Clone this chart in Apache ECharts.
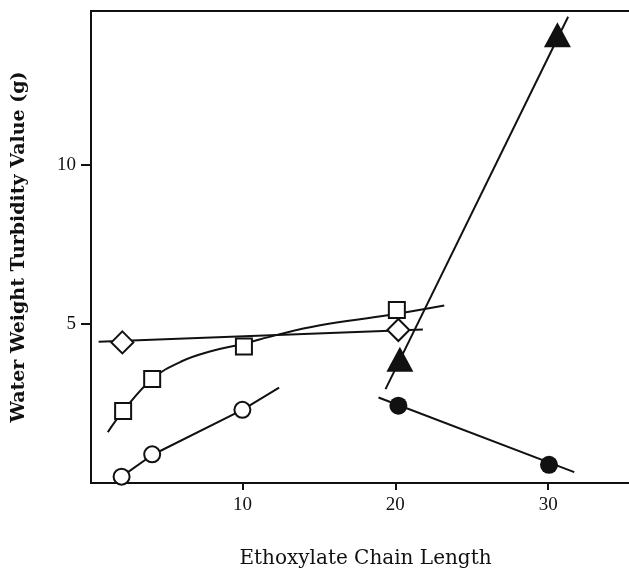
<!DOCTYPE html>
<html>
<head>
<meta charset="utf-8">
<script src="https://cdn.jsdelivr.net/npm/echarts@6/dist/echarts.min.js"></script>
<style>
html,body{margin:0;padding:0;background:#fff;}
#chart{width:629px;height:569px;}
</style>
</head>
<body>
<div id="chart"></div>
<script>
// ---- data ----
const xTicks = [10, 20, 30];
const yTicks = [5, 10];

// open circles
const circleX = [2.1, 4.1, 10.0];
const circleY = [0.2, 0.9, 2.3];
const circleFitX = [2.1, 4.1, 10.0, 12.4];
const circleFitY = [0.2, 0.88, 2.3, 3.0];

// open squares
const squareX = [2.2, 4.1, 10.1, 20.1];
const squareY = [2.26, 3.27, 4.29, 5.44];
const squareFitX = [1.2, 2.2, 4.1, 6.0, 8.0, 10.1, 12.2, 15.0, 19.6, 23.2];
const squareFitY = [1.6, 2.26, 3.27, 3.82, 4.15, 4.38, 4.65, 4.95, 5.28, 5.58];

// open diamonds
const diamondX = [2.15, 20.2];
const diamondY = [4.42, 4.81];
const diamondFitX = [0.6, 21.8];
const diamondFitY = [4.44, 4.83];

// filled triangles
const triangleX = [20.3, 30.6];
const triangleY = [3.89, 14.09];
const triangleFitX = [19.36, 31.3];
const triangleFitY = [2.95, 14.66];

// filled circles
const dotX = [20.2, 30.05];
const dotY = [2.43, 0.57];
const dotFitX = [18.9, 31.7];
const dotFitY = [2.69, 0.34];

const xName = 'Ethoxylate Chain Length';
const yName = 'Water Weight Turbidity Value (g)';

// ---- build ----
const zip = (xs, ys) => xs.map((x, i) => [x, ys[i]]);
const INK = '#111';

function fitLine(xs, ys, smooth) {
  return {
    type: 'line', data: zip(xs, ys), showSymbol: false, smooth: smooth || false,
    lineStyle: { color: INK, width: 2 }, z: 2, silent: true
  };
}
function marks(xs, ys, symbol, size, filled) {
  return {
    type: 'scatter', data: zip(xs, ys), symbol: symbol, symbolSize: size,
    itemStyle: { color: filled ? INK : '#fff', borderColor: INK, borderWidth: filled ? 0 : 2, opacity: 1 },
    z: 3, silent: true
  };
}

const chart = echarts.init(document.getElementById('chart'), null, { renderer: 'canvas' });
chart.setOption({
  animation: false,
  backgroundColor: '#fff',
  grid: {
    left: 91, right: -11, top: 11, bottom: 86,
    outerBoundsMode: 'none', containLabel: false,
    show: true, borderColor: INK, borderWidth: 2, backgroundColor: '#fff'
  },
  xAxis: {
    type: 'value', min: 0.1, max: 36,
    name: xName, nameLocation: 'middle', nameGap: 66,
    nameTextStyle: { fontFamily: 'DejaVu Serif', fontSize: 20, color: INK },
    axisLine: { show: true, lineStyle: { color: INK, width: 2 } },
    axisTick: { show: true, customValues: xTicks, length: 7, inside: false, lineStyle: { color: INK, width: 2 } },
    axisLabel: { customValues: xTicks, margin: 13, fontFamily: 'Liberation Serif', fontSize: 19, color: INK },
    splitLine: { show: false }
  },
  yAxis: {
    type: 'value', min: 0, max: 14.84,
    name: yName, nameLocation: 'middle', nameGap: 62, nameRotate: 90,
    nameTextStyle: { fontFamily: 'DejaVu Serif', fontWeight: 'bold', fontSize: 19, color: INK },
    axisLine: { show: true, lineStyle: { color: INK, width: 2 } },
    axisTick: { show: true, customValues: yTicks, length: 10, inside: false, lineStyle: { color: INK, width: 2 } },
    axisLabel: { customValues: yTicks, margin: 15, fontFamily: 'Liberation Serif', fontSize: 19, color: INK },
    splitLine: { show: false }
  },
  series: [
    fitLine(circleFitX, circleFitY),
    fitLine(squareFitX, squareFitY, 0.4),
    fitLine(diamondFitX, diamondFitY),
    fitLine(triangleFitX, triangleFitY),
    fitLine(dotFitX, dotFitY),
    marks(circleX, circleY, 'circle', 16, false),
    marks(squareX, squareY, 'rect', 16, false),
    marks(diamondX, diamondY, 'diamond', 22, false),
    marks(triangleX, triangleY, 'triangle', [27, 25], true),
    marks(dotX, dotY, 'circle', 18, true)
  ]
});
</script>
</body>
</html>
